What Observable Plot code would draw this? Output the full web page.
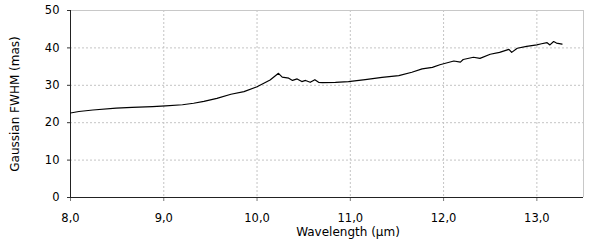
<!DOCTYPE html>
<html><head><meta charset="utf-8">
<script src="https://cdn.jsdelivr.net/npm/d3@7"></script>
<script src="https://cdn.jsdelivr.net/npm/@observablehq/plot@0.6"></script>
<style>body{margin:0;background:#fff}</style>
</head><body><div id="chart"></div>
<script>
const wavelength = [8.00, 8.09, 8.24, 8.49, 8.66, 8.88, 9.02, 9.20, 9.32, 9.43, 9.57, 9.72, 9.86, 10.00, 10.14, 10.23, 10.27, 10.34, 10.38, 10.43, 10.48, 10.52, 10.57, 10.62, 10.66, 10.70, 10.84, 10.98, 11.16, 11.34, 11.52, 11.66, 11.77, 11.88, 11.96, 12.11, 12.18, 12.21, 12.32, 12.39, 12.50, 12.60, 12.70, 12.73, 12.79, 12.89, 13.00, 13.05, 13.11, 13.14, 13.18, 13.21, 13.27];
const fwhm = [22.6, 23.0, 23.4, 23.9, 24.1, 24.3, 24.5, 24.8, 25.2, 25.7, 26.5, 27.6, 28.3, 29.6, 31.4, 33.2, 32.2, 31.9, 31.3, 31.7, 31.0, 31.3, 30.8, 31.5, 30.8, 30.7, 30.8, 31.0, 31.5, 32.1, 32.6, 33.5, 34.4, 34.8, 35.5, 36.5, 36.2, 36.9, 37.5, 37.2, 38.3, 38.8, 39.6, 38.8, 39.9, 40.4, 40.8, 41.1, 41.4, 40.8, 41.7, 41.3, 41.0];
const xTicks = [8, 9, 10, 11, 12, 13];
const yTicks = [0, 10, 20, 30, 40, 50];
const xLabel = "Wavelength (µm)";
const yLabel = "Gaussian FWHM (mas)";

const data = wavelength.map((w, i) => ({w, v: fwhm[i]}));
const fmt = d => d.toFixed(1).replace(".", ",");

const chart = Plot.plot({
  width: 600, height: 244,
  marginLeft: 70, marginRight: 17, marginTop: 10, marginBottom: 47,
  style: {fontFamily: "DejaVu Sans", fontSize: "11.5px", color: "#000", background: "#fff"},
  x: {domain: [8, 13.5]},
  y: {domain: [0, 50]},
  marks: [
    Plot.gridX(xTicks.slice(1), {stroke: "#c4c4c4", strokeOpacity: 1, strokeDasharray: "2,2"}),
    Plot.gridY(yTicks.slice(1, -1), {stroke: "#c4c4c4", strokeOpacity: 1, strokeDasharray: "2,2"}),
    Plot.ruleY([50], {stroke: "#c8c8c8"}),
    Plot.ruleX([13.5], {stroke: "#c8c8c8"}),
    Plot.axisX(xTicks, {tickSize: 4, tickPadding: 12, tickFormat: fmt, label: null, stroke: "#777"}),
    Plot.axisY(yTicks, {tickSize: 3, tickPadding: 8, label: null, stroke: "#333"}),
    Plot.ruleX([8], {stroke: "#222"}),
    Plot.ruleY([0], {stroke: "#222"}),
    Plot.line(data, {x: "w", y: "v", stroke: "#000", strokeWidth: 1.2}),
    Plot.text([xLabel], {frameAnchor: "bottom", dy: 35, dx: 21, fontSize: 12, textAnchor: "middle", lineAnchor: "middle", text: d => d}),
    Plot.text([yLabel], {frameAnchor: "left", dx: -55, rotate: -90, fontSize: 12, textAnchor: "middle", lineAnchor: "middle", text: d => d})
  ]
});
document.getElementById("chart").append(chart);
</script>
</body></html>
